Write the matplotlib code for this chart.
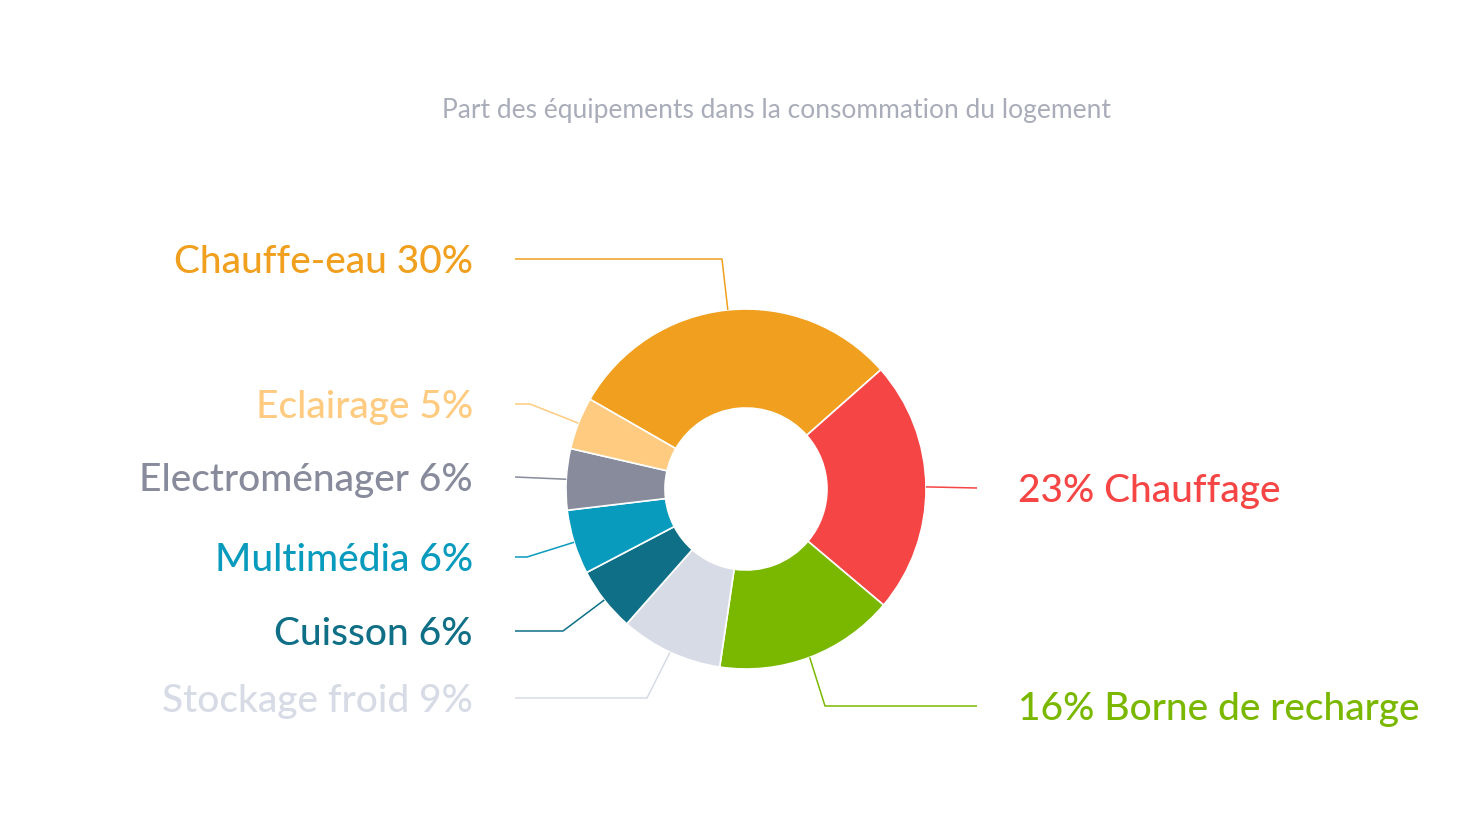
import numpy as np
import matplotlib.pyplot as plt

plt.rcParams['font.family'] = ['Lato', 'DejaVu Sans']

# slices, clockwise from the top-left
names = ['Chauffe-eau', 'Chauffage', 'Borne de recharge', 'Stockage froid',
         'Cuisson', 'Multimédia', 'Electroménager', 'Eclairage']
shares = [30.2, 22.7, 16.2, 9.2, 5.8, 5.8, 5.5, 4.7]
shown_pct = ['30%', '23%', '16%', '9%', '6%', '6%', '6%', '5%']
colors = ['#F0A01E', '#F64545', '#7AB800', '#D7DBE5',
          '#0F6F87', '#099BBD', '#878B9B', '#FECB80']

W, H = 1483, 839
cx, cy = 746, H - 489
R, r_in = 180, 81

fig = plt.figure(figsize=(W / 100, H / 100), dpi=100)
ax = fig.add_axes([0, 0, 1, 1])

wedges, _ = ax.pie(shares, colors=colors, startangle=150.1, counterclock=False,
                   radius=R, center=(cx, cy), frame=True,
                   wedgeprops=dict(width=R - r_in, edgecolor='white', linewidth=1.2))
ax.set_xlim(0, W)
ax.set_ylim(0, H)
ax.set_aspect('equal')
ax.axis('off')

# leader line routes (pixel coords, y from top): elbow and label anchor
leaders = {
    'Chauffe-eau':       [(722, 259), (515, 259)],
    'Eclairage':         [(530, 404), (515, 404)],
    'Electroménager':    [(515, 477)],
    'Multimédia':        [(527, 557), (515, 557)],
    'Cuisson':           [(563, 631), (515, 631)],
    'Stockage froid':    [(647, 698), (515, 698)],
    'Chauffage':         [(977, 488)],
    'Borne de recharge': [(825, 706), (977, 706)],
}

for w, name, pct, col in zip(wedges, names, shown_pct, colors):
    mid = np.deg2rad((w.theta1 + w.theta2) / 2)
    start = (cx + R * np.cos(mid), cy + R * np.sin(mid))
    pts = [start] + [(x, H - y) for x, y in leaders[name]]
    xs, ys = zip(*pts)
    ax.plot(xs, ys, color=col, lw=1.1, solid_capstyle='butt')
    end_x, end_y = pts[-1]
    if end_x > cx:
        ax.text(end_x + 41, end_y, f'{pct} {name}', color=col, fontsize=28,
                fontweight='medium', ha='left', va='center_baseline')
    else:
        ax.text(end_x - 42, end_y, f'{name} {pct}', color=col, fontsize=28,
                fontweight='medium', ha='right', va='center_baseline')

ax.text(776, H - 108, 'Part des équipements dans la consommation du logement',
        color='#A9ADB9', fontsize=19, ha='center', va='center_baseline')

fig.savefig('out.png', dpi=100, facecolor='white')
